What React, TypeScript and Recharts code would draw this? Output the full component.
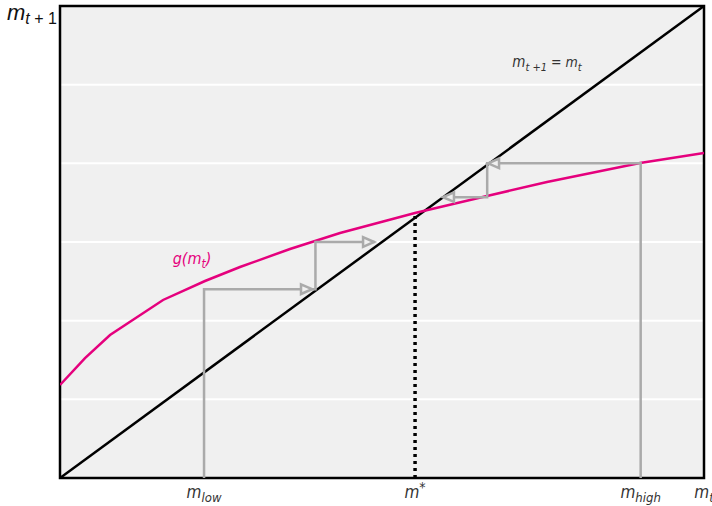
import React from 'react';
import { ComposedChart, Line, XAxis, YAxis, CartesianGrid, ReferenceDot, ReferenceArea } from 'recharts';

// axis values
const mLow = 1.342;
const mStar = 3.308;
const mHigh = 5.41;
const mMax = 6;
const xTicks = [mLow, mStar, mHigh, mMax];
const xTickSubs = ['low', '', 'high', 't'];
const xTickSups = ['', '*', '', ''];
const yTicks = [0, 1, 2, 3, 4, 5, 6];

// g(m_t) curve
const curveX = [0, 0.233, 0.466, 0.96, 1.351, 1.677, 2.143, 2.609, 3.028, 3.307, 3.978, 4.537, 5.404, 6];
const curveY = [1.182, 1.525, 1.818, 2.263, 2.504, 2.682, 2.911, 3.114, 3.267, 3.368, 3.585, 3.763, 4.004, 4.131];

// 45-degree line
const diagX = [0, 6];
const diagY = [0, 6];

// cobweb paths
const lowX = [mLow, mLow, 2.38, 2.38, 2.93];
const lowY = [0, 2.4, 2.4, 3.0, 3.0];
const highX = [mHigh, mHigh, 3.98, 3.98, 3.57];
const highY = [0, 4.0, 4.0, 3.57, 3.57];
const starX = [mStar, mStar];
const starY = [0, 3.34];

// arrow heads: x, y, direction (+1 right, -1 left)
const arrowX = [2.348, 2.926, 3.988, 3.568];
const arrowY = [2.4, 3.0, 4.0, 3.57];
const arrowDir = [1, 1, -1, -1];

const zip = (xs: number[], ys: number[]) => xs.map((x, i) => ({ x, y: ys[i] }));
const curveData = zip(curveX, curveY);
const diagData = zip(diagX, diagY);
const lowData = zip(lowX, lowY);
const highData = zip(highX, highY);
const starData = zip(starX, starY);

const NARROW = '"Liberation Sans Narrow", "DejaVu Sans Condensed", "Liberation Sans", sans-serif';
const GRAY = '#aaaaaa';
const MAGENTA = '#e5007d';
const BG = '#f0f0f0';

const XTick = (props: any) => {
  const { x, y, payload } = props;
  const i = xTicks.findIndex((t) => Math.abs(t - payload.value) < 1e-6);
  if (i < 0) return null;
  return (
    <text x={x} y={y + 12} textAnchor="middle" fontFamily={NARROW} fontStyle="italic" fill="#333">
      <tspan fontSize={17}>m</tspan>
      {xTickSubs[i] ? <tspan fontSize={13} dy={4}>{xTickSubs[i]}</tspan> : null}
      {xTickSups[i] ? <tspan fontSize={14} dy={-6}>{xTickSups[i]}</tspan> : null}
    </text>
  );
};

const makeArrow = (dir: number) => (props: any) => {
  const { cx, cy } = props;
  const L = 11;
  const H = 4.8;
  const pts =
    dir > 0
      ? `${cx},${cy} ${cx - L},${cy - H} ${cx - L},${cy + H}`
      : `${cx},${cy} ${cx + L},${cy - H} ${cx + L},${cy + H}`;
  return <polygon points={pts} fill={BG} stroke={GRAY} strokeWidth={2.5} strokeLinejoin="miter" />;
};

const YLabel = (props: any) => {
  const { cx, cy } = props;
  return (
    <text x={cx - 53} y={cy + 14} fontFamily='"Liberation Sans", sans-serif' fill="#111">
      <tspan fontSize={22} fontStyle="italic">m</tspan>
      <tspan fontSize={16} dy={4} fontStyle="italic">t</tspan>
      <tspan fontSize={16}> + 1</tspan>
    </text>
  );
};

const DiagLabel = (props: any) => {
  const { cx, cy } = props;
  return (
    <text x={cx} y={cy} textAnchor="middle" fontFamily={NARROW} fontStyle="italic" fill="#333">
      <tspan fontSize={15}>m</tspan>
      <tspan fontSize={11} dy={4}>t +1</tspan>
      <tspan fontSize={14} dy={-4}> = m</tspan>
      <tspan fontSize={11} dy={4}>t</tspan>
    </text>
  );
};

const GLabel = (props: any) => {
  const { cx, cy } = props;
  return (
    <text x={cx} y={cy} textAnchor="middle" fontFamily={NARROW} fontStyle="italic" fill={MAGENTA}>
      <tspan fontSize={16}>g(m</tspan>
      <tspan fontSize={12} dy={4}>t</tspan>
      <tspan fontSize={16} dy={-4}>)</tspan>
    </text>
  );
};

export default function App() {
  return (
    <div style={{ position: 'absolute', left: 0, top: 0, width: 712, height: 506 }}>
      <ComposedChart width={712} height={506} margin={{ top: 6, right: 8, left: 60, bottom: 0 }}>
        <CartesianGrid vertical={false} fill={BG} fillOpacity={1} stroke="#ffffff" strokeWidth={2} />
        <XAxis
          dataKey="x"
          type="number"
          domain={[0, mMax]}
          ticks={xTicks}
          interval={0}
          tick={<XTick />}
          tickLine={false}
          axisLine={false}
          height={28}
          allowDataOverflow
        />
        <YAxis type="number" domain={[0, 6]} ticks={yTicks} hide allowDataOverflow />
        <Line data={diagData} dataKey="y" stroke="#000" strokeWidth={2.5} dot={false} isAnimationActive={false} />
        <Line data={curveData} dataKey="y" stroke={MAGENTA} strokeWidth={2.5} dot={false} isAnimationActive={false} />
        <Line data={lowData} dataKey="y" stroke={GRAY} strokeWidth={2.5} dot={false} isAnimationActive={false} />
        <Line data={highData} dataKey="y" stroke={GRAY} strokeWidth={2.5} dot={false} isAnimationActive={false} />
        <Line
          data={starData}
          dataKey="y"
          stroke="#000"
          strokeWidth={3.5}
          strokeDasharray="3 4"
          dot={false}
          isAnimationActive={false}
        />
        {arrowX.map((x, i) => (
          <ReferenceDot key={i} x={x} y={arrowY[i]} r={0} ifOverflow="visible" shape={makeArrow(arrowDir[i])} />
        ))}
        <ReferenceDot x={4.537} y={5.22} r={0} ifOverflow="visible" shape={DiagLabel} />
        <ReferenceDot x={1.23} y={2.72} r={0} ifOverflow="visible" shape={GLabel} />
        <ReferenceDot x={0} y={6} r={0} ifOverflow="visible" shape={YLabel} />
        <ReferenceArea x1={0} x2={mMax} y1={0} y2={6} fill="none" stroke="#000" strokeWidth={2.5} ifOverflow="visible" />
      </ComposedChart>
    </div>
  );
}
